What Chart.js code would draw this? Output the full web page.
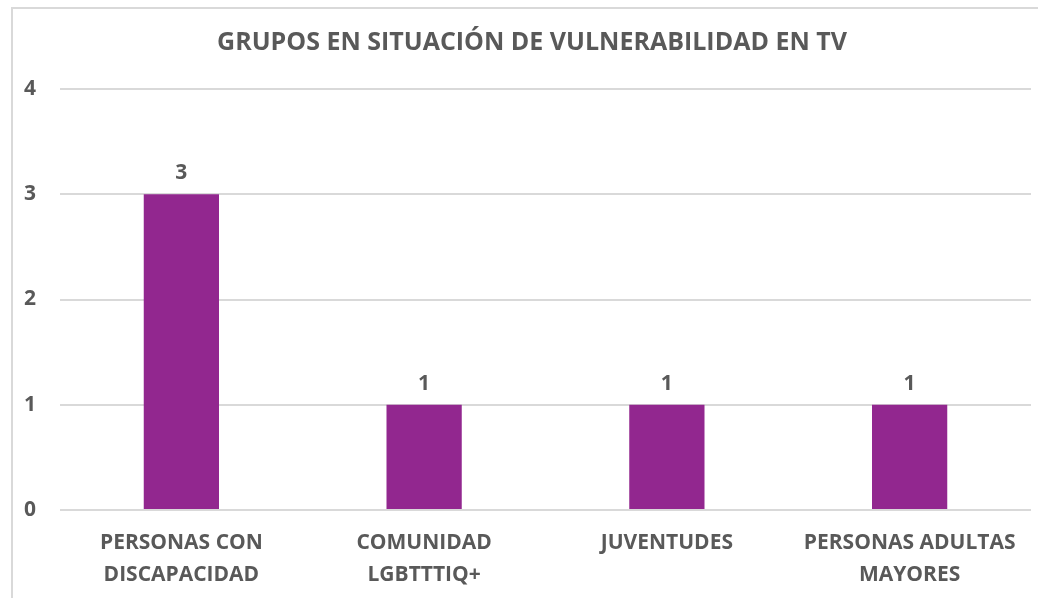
<!DOCTYPE html>
<html>
<head>
<meta charset="utf-8">
<script src="https://cdn.jsdelivr.net/npm/chart.js@4"></script>
<style>
  html, body { margin: 0; padding: 0; background: #fff; }
  #wrap { position: relative; width: 1038px; height: 598px; }
</style>
</head>
<body>
<div id="wrap"><canvas id="chart"></canvas></div>
<script>
const categories = [
  ['PERSONAS CON', 'DISCAPACIDAD'],
  ['COMUNIDAD', 'LGBTTTIQ+'],
  ['JUVENTUDES'],
  ['PERSONAS ADULTAS', 'MAYORES'],
];
const values = [3, 1, 1, 1];
const title = 'GRUPOS EN SITUACIÓN DE VULNERABILIDAD EN TV';

const FONT = '"Open Sans", sans-serif';
const GREY = '#595959';

// Frame, title and value labels
const decor = {
  id: 'decor',
  beforeDraw(chart) {
    const ctx = chart.ctx;
    ctx.save();
    ctx.strokeStyle = '#d9d9d9';
    ctx.lineWidth = 2;
    ctx.strokeRect(12, 8, 1040, 600);
    ctx.restore();
  },
  afterDatasetsDraw(chart) {
    const ctx = chart.ctx;
    ctx.save();
    ctx.fillStyle = GREY;
    ctx.font = `bold 25px ${FONT}`;
    ctx.textAlign = 'center';
    ctx.textBaseline = 'middle';
    ctx.fillText(title, 532, 43);

    ctx.font = `bold 21px ${FONT}`;
    ctx.textBaseline = 'alphabetic';
    chart.getDatasetMeta(0).data.forEach((bar, i) => {
      ctx.fillText(values[i], bar.x, bar.y - 15);
    });
    ctx.restore();
  },
};

new Chart(document.getElementById('chart'), {
  type: 'bar',
  data: {
    labels: categories,
    datasets: [{
      data: values,
      backgroundColor: '#92278f',
      barPercentage: 0.62,
      categoryPercentage: 0.5,
    }],
  },
  options: {
    responsive: true,
    maintainAspectRatio: false,
    animation: false,
    layout: { padding: { top: 89, right: 7, left: 0, bottom: 0 } },
    plugins: { legend: { display: false }, tooltip: { enabled: false } },
    scales: {
      x: {
        grid: { display: false, drawTicks: false },
        border: { display: false },
        ticks: { color: GREY, font: { family: FONT, size: 21, weight: 'bold', lineHeight: 1.52 }, padding: 17, maxRotation: 0 },
        afterFit: s => { s.height = 88; },
      },
      y: {
        min: 0,
        max: 4,
        ticks: { stepSize: 1, color: GREY, font: { family: FONT, size: 21, weight: 'bold' }, padding: 24 },
        grid: { color: '#d9d9d9', lineWidth: 2, drawTicks: false },
        border: { display: false },
        afterFit: s => { s.width = 60; },
      },
    },
  },
  plugins: [decor],
});
</script>
</body>
</html>
